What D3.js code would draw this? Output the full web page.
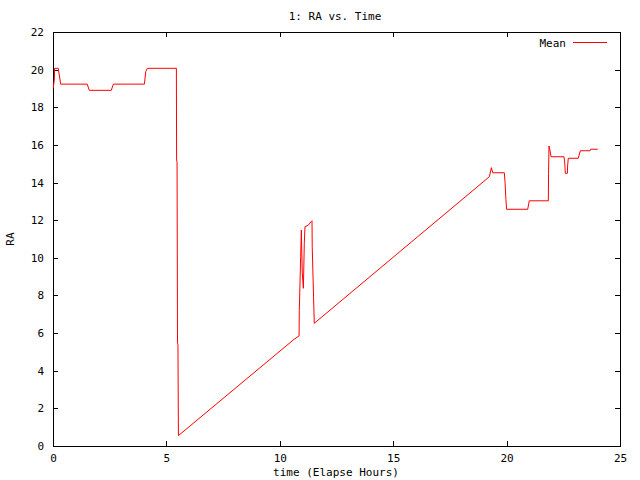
<!DOCTYPE html>
<html><head><meta charset="utf-8">
<script src="https://cdn.jsdelivr.net/npm/d3@7"></script>
<style>body{margin:0;background:#fff}text{font-family:"DejaVu Sans Mono","Liberation Mono",monospace;font-size:11px;fill:#000}</style>
</head><body><svg id="c" width="640" height="480"></svg>
<script>
const title = "1: RA vs. Time";
const xLabel = "time (Elapse Hours)";
const yLabel = "RA";
const seriesName = "Mean";
const xTicks = [0, 5, 10, 15, 20, 25];
const yTicks = [0, 2, 4, 6, 8, 10, 12, 14, 16, 18, 20, 22];
const timeHours = [0.01,0.06,0.07,0.23,0.34,1.51,1.60,2.57,2.66,4.03,4.09,4.16,5.44,5.45,5.47,5.49,5.51,5.53,
  10.63,10.85,10.86,10.92,10.95,10.99,11.04,11.08,11.11,11.26,11.38,11.42,11.43,11.49,11.52,
  19.24,19.33,19.39,19.90,19.93,19.97,20.00,20.93,21.00,21.84,21.85,21.87,21.91,21.96,22.53,22.56,22.59,22.68,22.69,22.72,23.16,23.25,23.68,23.70,24.02];
const raMean = [19.0,19.5,20.07,20.07,19.23,19.23,18.9,18.9,19.23,19.23,19.9,20.07,20.07,15.2,15.1,5.46,5.4,0.55,
  5.67,5.85,7.2,10.06,11.48,9.2,8.38,10.77,11.65,11.74,11.92,11.97,10.6,7.88,6.52,
  14.31,14.79,14.52,14.52,14.04,13.1,12.58,12.58,13.03,13.03,14.49,15.94,15.73,15.37,15.37,15.1,14.49,14.49,14.88,15.29,15.29,15.69,15.69,15.77,15.77];

const svg = d3.select("#c");
const L = 53, R = 620, T = 32, B = 446;
const x = d3.scaleLinear().domain([0, 25]).range([L, R]);
const y = d3.scaleLinear().domain([0, 22]).range([B, T]);

const g = svg.append("g");
const ax = (axis, tr) => {
  const a = g.append("g").attr("transform", tr).call(axis);
  a.select(".domain").remove();
  a.selectAll("line").attr("stroke", "#000").attr("shape-rendering", "crispEdges");
  a.selectAll("text").style("font-family", '"DejaVu Sans Mono","Liberation Mono",monospace').style("font-size", "11px").attr("fill", "#000");
  return a;
};
ax(d3.axisBottom(x).tickValues(xTicks).tickSizeInner(-5).tickSizeOuter(0).tickPadding(8), `translate(0,${B})`);
ax(d3.axisTop(x).tickValues(xTicks).tickSizeInner(-5).tickSizeOuter(0).tickFormat(""), `translate(0,${T})`);
ax(d3.axisLeft(y).tickValues(yTicks).tickSizeInner(-5).tickSizeOuter(0).tickPadding(9), `translate(${L},0)`);
ax(d3.axisRight(y).tickValues(yTicks).tickSizeInner(-5).tickSizeOuter(0).tickFormat(""), `translate(${R},0)`);

g.append("rect").attr("x", L).attr("y", T).attr("width", R - L).attr("height", B - T)
  .attr("fill", "none").attr("stroke", "#000").attr("shape-rendering", "crispEdges");

const pts = timeHours.map((t, i) => [t, raMean[i]]);
g.append("path").datum(pts)
  .attr("d", d3.line().x(d => x(d[0])).y(d => y(d[1])))
  .attr("fill", "none").attr("stroke", "#ff0000").attr("stroke-width", 1);

svg.append("text").attr("x", 335).attr("y", 20).attr("text-anchor", "middle").text(title);
svg.append("text").attr("x", 336).attr("y", 476).attr("text-anchor", "middle").text(xLabel);
svg.append("text").attr("transform", "translate(14,239) rotate(-90)").attr("text-anchor", "middle").text(yLabel);
svg.append("text").attr("x", 566).attr("y", 47).attr("text-anchor", "end").text(seriesName);
svg.append("line").attr("x1", 573).attr("x2", 607).attr("y1", 42.5).attr("y2", 42.5)
  .attr("stroke", "#ff0000").attr("stroke-width", 1);
</script></body></html>
